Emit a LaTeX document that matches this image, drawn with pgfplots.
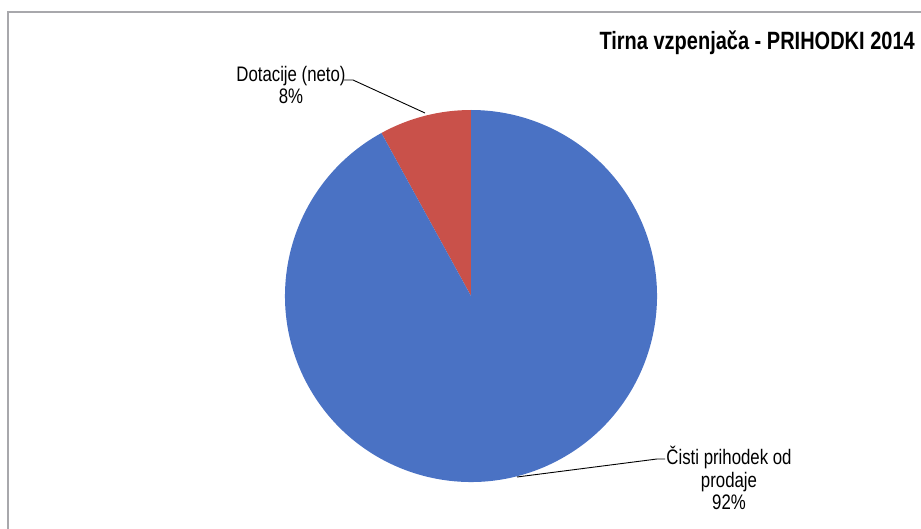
\documentclass[border=0pt]{standalone}
\usepackage{pgfplots}
\pgfplotsset{compat=1.18}
\usepackage{fontspec}
\setmainfont[FakeStretch=0.80]{Liberation Sans}
\definecolor{pieblue}{HTML}{4A72C4}
\definecolor{piered}{HTML}{C9514A}
\definecolor{frame}{HTML}{A8A8AC}
% values (percent)
\def\valSales{92}
\def\valSubs{8}
\begin{document}
\begin{tikzpicture}
\begin{axis}[
    scale only axis, width=921pt, height=528pt,
    xmin=0, xmax=921, ymin=0, ymax=528,
    hide axis, clip=false,
]
    % frame (image y measured from top: y = 528 - y_img)
    \draw[frame, line width=1.5pt] (axis cs:8,-20) -- (axis cs:8,516) -- (axis cs:940,516);
    \pgfmathsetmacro{\angSubs}{360*\valSubs/(\valSales+\valSubs)}
    \pgfmathsetmacro{\endSubs}{90+\angSubs}
    \fill[piered] (axis cs:471,232) -- ++(90:186pt) arc[start angle=90, end angle=\endSubs, radius=186pt] -- cycle;
    \fill[pieblue] (axis cs:471,232) -- ++(\endSubs:186pt) arc[start angle=\endSubs, end angle=450, radius=186pt] -- cycle;
    % leader lines
    \draw[black, line width=0.9pt] (axis cs:344,448) -- (axis cs:353,448) -- (axis cs:425,415);
    \draw[black, line width=0.9pt] (axis cs:517,51) -- (axis cs:657,69) -- (axis cs:665,69);
    % labels
    \node[font=\fontsize{21}{22}\selectfont, align=center, inner sep=0pt] at (axis cs:291,443) {Dotacije (neto)\\8\%};
    \node[font=\fontsize{21}{22.5}\selectfont, align=center, inner sep=0pt] at (axis cs:729,50) {Čisti prihodek od\\prodaje\\92\%};
    \node[font=\fontsize{25}{27}\selectfont\bfseries, anchor=east, inner sep=0pt] at (axis cs:915,485) {Tirna vzpenjača - PRIHODKI 2014};
\end{axis}
\pgfresetboundingbox
\path[use as bounding box] (0,0) rectangle (921pt,528pt);
\end{tikzpicture}
\end{document}
